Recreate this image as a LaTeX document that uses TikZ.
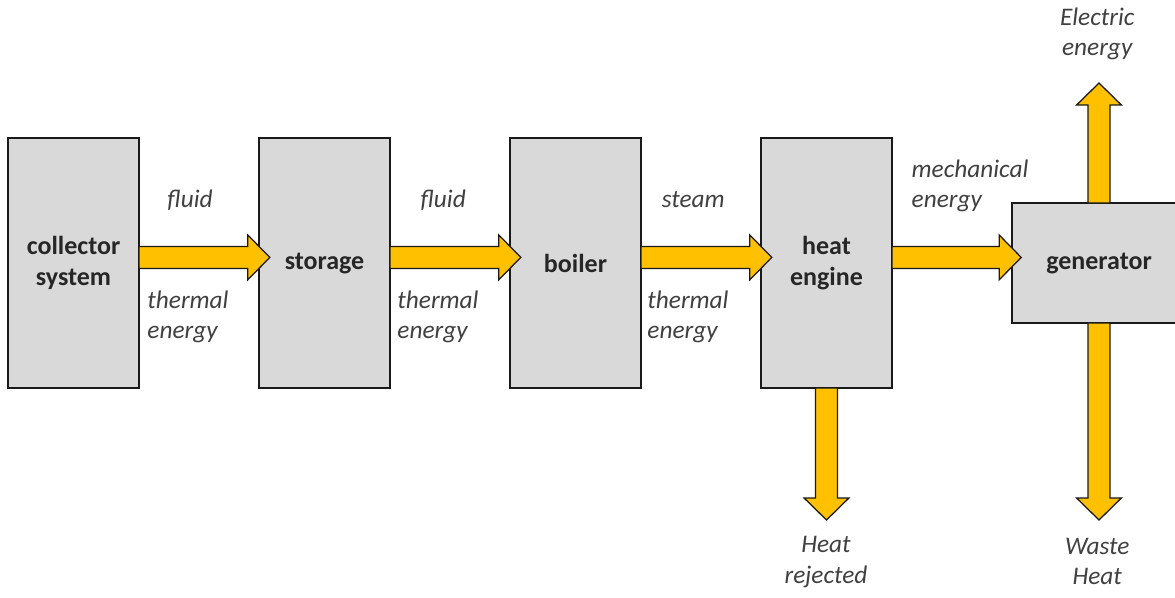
\documentclass[tikz,border=0pt]{standalone}
\usepackage{fontspec}
\setmainfont{Carlito}
\usetikzlibrary{calc,positioning}
\definecolor{PlantInk}{HTML}{1A1A1A}
\definecolor{PlantText}{HTML}{262626}
\definecolor{PlantNote}{HTML}{404040}
\definecolor{PlantGray}{HTML}{D9D9D9}
\definecolor{PlantGold}{HTML}{FFC000}
\tikzset{
  every node/.style={text=PlantText},
  block/.style={draw=PlantInk, line width=1.1pt, fill=PlantGray, align=center, inner sep=0pt, outer sep=0pt,
    font=\fontsize{18.5}{22}\selectfont\bfseries},
  flow/.style={draw=PlantInk, line width=0.9pt, fill=PlantGold, line join=miter},
  note/.style={text=PlantNote, align=left, inner sep=0pt, font=\fontsize{18}{21.5}\selectfont\itshape},
}
% block arrow from #1 (back end) to #2 (tip)
\newcommand{\flowarrow}[2]{%
  \coordinate (fa-s) at (#1);
  \coordinate (fa-t) at (#2);
  \coordinate (fa-h) at ($(fa-t)!0.55cm!(fa-s)$);
  \draw[flow] ($(fa-s)!0.275cm!90:(fa-t)$) -- ($(fa-h)!0.275cm!90:(fa-t)$)
    -- ($(fa-h)!0.56cm!90:(fa-t)$) -- (fa-t) -- ($(fa-h)!0.56cm!-90:(fa-t)$)
    -- ($(fa-h)!0.275cm!-90:(fa-t)$) -- ($(fa-s)!0.275cm!-90:(fa-t)$) -- cycle;
}

\begin{document}
\begin{tikzpicture}[x=1cm,y=1cm]
  \useasboundingbox (0,0) rectangle (29.375,-14.95);
  % chain of blocks, 3cm apart
  \node[block, minimum width=3.275cm, minimum height=6.25cm] (collector) at (1.8375,-6.575) {collector\\system};
  \node[block, minimum width=3.275cm, minimum height=6.25cm, right=3cm of collector] (storage) {storage};
  \node[block, minimum width=3.275cm, minimum height=6.25cm, right=3cm of storage] (boiler) {boiler};
  \node[block, minimum width=3.275cm, minimum height=6.25cm, right=3cm of boiler] (engine) {heat\\engine};
  \node[block, minimum width=4.35cm, minimum height=3cm, right=3cm of engine] (generator) {generator};
  % free ends of the outputs
  \coordinate (rejected) at ([yshift=-3.3cm]engine.south);
  \coordinate (electric) at ([yshift=3cm]generator.north);
  \coordinate (waste) at ([yshift=-4.925cm]generator.south);
  % flows
  \flowarrow{[yshift=0.14cm]collector.east}{[shift={(0.27,0.14)}]storage.west}
  \flowarrow{[yshift=0.14cm]storage.east}{[shift={(0.27,0.14)}]boiler.west}
  \flowarrow{[yshift=0.14cm]boiler.east}{[shift={(0.27,0.14)}]engine.west}
  \flowarrow{[yshift=0.14cm]engine.east}{[shift={(0.23,0.14)}]generator.west}
  \flowarrow{engine.south}{rejected}
  \flowarrow{generator.north}{electric}
  \flowarrow{generator.south}{waste}
  % labels
  \node[note] (fluidA) at (4.75,-5.0) {fluid};
  \node[note] (fluidB) at (11.08,-5.0) {fluid};
  \node[note] (steam) at (17.33,-5.0) {steam};
  \node[note] (thermalA) at (4.7,-7.93) {thermal\\energy};
  \node[note] (thermalB) at (10.95,-7.93) {thermal\\energy};
  \node[note] (thermalC) at (17.2,-7.93) {thermal\\energy};
  \node[note] (mech) at (24.25,-4.65) {mechanical\\energy};
  \node[note, align=center] (electricL) at (27.43,-0.85) {Electric\\energy};
  \node[note, align=center] (rejectedL) at (20.65,-14.05) {Heat\\rejected};
  \node[note, align=center] (wasteL) at (27.43,-14.03) {Waste\\Heat};
\end{tikzpicture}
\end{document}
